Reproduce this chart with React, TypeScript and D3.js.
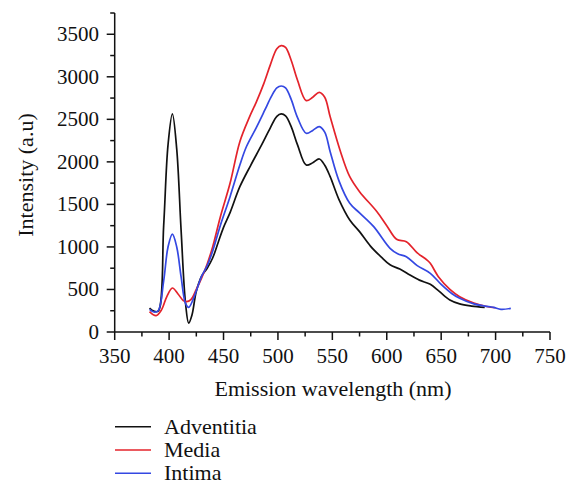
import React from "react";
import * as d3 from "d3";

const xTicks = [350, 400, 450, 500, 550, 600, 650, 700, 750];
const yTicks = [0, 500, 1000, 1500, 2000, 2500, 3000, 3500];

const seriesNames = ["Adventitia", "Media", "Intima"];
const seriesColors = ["#111111", "#e4232b", "#3448e2"];

const advWl = [382, 386, 390, 395, 399, 403, 407, 411, 415, 418, 421, 425, 430, 435, 440, 445, 450, 456, 465, 475, 485, 493, 499, 503, 507, 512, 518, 526, 532, 538, 543, 548, 556, 566, 575, 585, 595, 603, 612, 620, 630, 640, 648, 658, 667, 678, 690];
const advVal = [280, 245, 245, 1250, 2200, 2565, 2150, 1200, 350, 105, 200, 480, 660, 750, 870, 1050, 1230, 1403, 1708, 1960, 2200, 2400, 2535, 2563, 2540, 2420, 2200, 1963, 1990, 2034, 1960, 1826, 1560, 1317, 1180, 1010, 880, 790, 740, 680, 610, 560, 480, 376, 330, 305, 290];

const medWl = [382, 388, 393, 398, 403, 408, 413, 416, 420, 425, 430, 435, 440, 447, 456, 465, 474, 480, 487, 493, 499, 503, 507, 512, 518, 526, 532, 538, 543, 548, 557, 566, 575, 591, 600, 609, 618, 628, 637, 640, 648, 658, 667, 680, 692, 700];
const medVal = [240, 192, 260, 420, 517, 450, 370, 356, 380, 500, 640, 800, 1000, 1350, 1748, 2237, 2531, 2700, 2920, 3140, 3330, 3366, 3345, 3200, 2960, 2720, 2760, 2818, 2760, 2530, 2140, 1826, 1650, 1414, 1250, 1090, 1062, 930, 846, 807, 640, 500, 415, 340, 300, 285];

const intWl = [382, 386, 390, 395, 399, 403, 407, 411, 415, 418, 422, 426, 430, 435, 440, 447, 456, 465, 471, 480, 488, 494, 499, 503, 507, 512, 518, 526, 532, 538, 543, 548, 556, 566, 575, 588, 603, 610, 618, 628, 640, 650, 660, 667, 680, 690, 698, 705, 714];
const intVal = [265, 235, 250, 600, 1000, 1150, 1000, 650, 340, 290, 380, 520, 660, 780, 950, 1250, 1591, 1963, 2178, 2400, 2610, 2770, 2870, 2892, 2870, 2740, 2520, 2336, 2370, 2414, 2350, 2120, 1780, 1513, 1400, 1238, 984, 920, 885, 780, 690, 560, 450, 396, 330, 305, 290, 267, 278];

const seriesWl = [advWl, medWl, intWl];
const seriesVal = [advVal, medVal, intVal];

export default function App() {
  const W = 578, H = 492;
  const x = d3.scaleLinear().domain([350, 750]).range([114.7, 550]);
  const y = d3.scaleLinear().domain([0, 3750]).range([332, 13]);
  const font = "'Liberation Serif', 'Times New Roman', serif";

  const line = d3
    .line<[number, number]>()
    .x((d) => x(d[0]))
    .y((d) => y(d[1]))
    .curve(d3.curveCatmullRom.alpha(0.5));

  const xMinor = d3.range(375, 750, 50);
  const yMinor = d3.range(250, 3751, 500);

  return (
    <svg
      width={W}
      height={H}
      style={{ position: "absolute", left: 0, top: 0, background: "#fff" }}
      fontFamily={font}
    >
      <rect x={0} y={0} width={W} height={H} fill="#fff" />
      {seriesWl.map((wl, i) => (
        <path
          key={seriesNames[i]}
          d={line(wl.map((w, j) => [w, seriesVal[i][j]] as [number, number])) || ""}
          fill="none"
          stroke={seriesColors[i]}
          strokeWidth={1.7}
          strokeLinejoin="round"
        />
      ))}
      <line x1={x(350)} x2={x(750)} y1={y(0)} y2={y(0)} stroke="#111" strokeWidth={1.5} />
      <line x1={x(350)} x2={x(350)} y1={y(0)} y2={y(3750)} stroke="#111" strokeWidth={1.5} />
      {xTicks.map((t) => (
        <g key={"xt" + t}>
          <line x1={x(t)} x2={x(t)} y1={y(0)} y2={y(0) + 8} stroke="#111" strokeWidth={1.5} />
          <text x={x(t)} y={363} textAnchor="middle" fontSize={21} fill="#111">
            {t}
          </text>
        </g>
      ))}
      {xMinor.map((t) => (
        <line key={"xm" + t} x1={x(t)} x2={x(t)} y1={y(0)} y2={y(0) + 4.5} stroke="#111" strokeWidth={1.5} />
      ))}
      {yTicks.map((t) => (
        <g key={"yt" + t}>
          <line x1={x(350) - 8} x2={x(350)} y1={y(t)} y2={y(t)} stroke="#111" strokeWidth={1.5} />
          <text x={99} y={y(t) + 7} textAnchor="end" fontSize={21} fill="#111">
            {t}
          </text>
        </g>
      ))}
      {yMinor.map((t) => (
        <line key={"ym" + t} x1={x(350) - 4.5} x2={x(350)} y1={y(t)} y2={y(t)} stroke="#111" strokeWidth={1.5} />
      ))}
      <text x={333} y={396} textAnchor="middle" fontSize={22} fill="#111">
        Emission wavelength (nm)
      </text>
      <text
        transform={`translate(33,175) rotate(-90)`}
        textAnchor="middle"
        fontSize={22}
        fill="#111"
      >
        Intensity (a.u)
      </text>
      {seriesNames.map((n, i) => (
        <g key={"lg" + n}>
          <line x1={115} x2={151} y1={426.7 + i * 23.3} y2={426.7 + i * 23.3} stroke={seriesColors[i]} strokeWidth={1.6} />
          <text x={164} y={426.7 + i * 23.3 + 7} fontSize={22} fill="#111">
            {n}
          </text>
        </g>
      ))}
    </svg>
  );
}
